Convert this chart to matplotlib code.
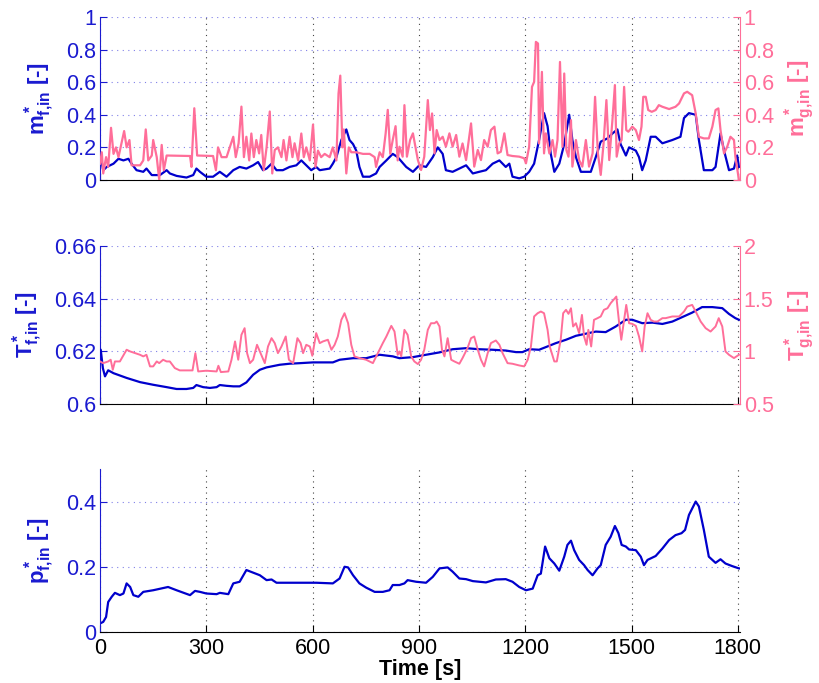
import numpy as np
import matplotlib
matplotlib.use('Agg')
import matplotlib.pyplot as plt
from matplotlib.ticker import FormatStrFormatter

plt.rcParams['font.family'] = ['Liberation Sans', 'DejaVu Sans']
plt.rcParams['mathtext.fontset'] = 'custom'
plt.rcParams['mathtext.rm'] = 'Liberation Sans:bold'
plt.rcParams['mathtext.bf'] = 'Liberation Sans:bold'
plt.rcParams['mathtext.it'] = 'Liberation Sans:bold'

BLUE = '#0000CC'
BLUE_TXT = '#1A1AD0'
PINK = '#FF6E99'
GRID_BLUE = '#8080E8'
TICK_FS = 15.5
LABEL_FS = 16

# (time [s], value) pairs

# top panel: m*_f,in (left axis)
m_f_pts = [(0, 0.12), (3, 0.12), (9, 0.06), (19, 0.08), (38, 0.10), (52, 0.13), (66, 0.12),
           (80, 0.13), (89, 0.10), (103, 0.06), (122, 0.05), (131, 0.07), (146, 0.03), (169, 0.03),
           (188, 0.06), (197, 0.04), (216, 0.025), (244, 0.015), (263, 0.03), (272, 0.07),
           (282, 0.05), (300, 0.02), (319, 0.02), (338, 0.05), (357, 0.02), (376, 0.06), (394, 0.08),
           (413, 0.07), (432, 0.09), (446, 0.11), (460, 0.06), (470, 0.07), (484, 0.10), (498, 0.06),
           (516, 0.06), (535, 0.08), (554, 0.09), (568, 0.12), (582, 0.09), (596, 0.06), (610, 0.08),
           (620, 0.06), (648, 0.07), (657, 0.10), (667, 0.14), (681, 0.245), (695, 0.31),
           (704, 0.245), (714, 0.22), (723, 0.18), (732, 0.08), (742, 0.02), (761, 0.02),
           (779, 0.04), (789, 0.08), (808, 0.12), (826, 0.16), (840, 0.14), (864, 0.08), (883, 0.05),
           (901, 0.09), (920, 0.08), (939, 0.14), (953, 0.20), (967, 0.16), (976, 0.06), (995, 0.05),
           (1014, 0.07), (1033, 0.09), (1052, 0.04), (1070, 0.05), (1089, 0.06), (1108, 0.10),
           (1127, 0.12), (1145, 0.08), (1155, 0.10), (1164, 0.02), (1183, 0.01), (1197, 0.02),
           (1211, 0.05), (1225, 0.10), (1239, 0.245), (1253, 0.41), (1263, 0.33), (1272, 0.16),
           (1282, 0.05), (1296, 0.10), (1310, 0.22), (1324, 0.40), (1333, 0.245), (1343, 0.14),
           (1357, 0.05), (1385, 0.05), (1399, 0.14), (1413, 0.235), (1432, 0.255), (1446, 0.285),
           (1460, 0.31), (1469, 0.22), (1484, 0.15), (1493, 0.20), (1512, 0.18), (1521, 0.14),
           (1530, 0.06), (1540, 0.12), (1554, 0.265), (1568, 0.265), (1587, 0.225), (1615, 0.245),
           (1638, 0.265), (1648, 0.38), (1662, 0.41), (1681, 0.40), (1690, 0.245), (1704, 0.06),
           (1728, 0.06), (1737, 0.08), (1751, 0.285), (1761, 0.18), (1775, 0.06), (1789, 0.07),
           (1798, 0.15), (1803, 0.08)]

# top panel: m*_g,in (right axis)
m_g_pts = [(0, 0.10), (5, 0.17), (9, 0.04), (17, 0.14), (23, 0.08), (31, 0.32), (38, 0.16),
           (45, 0.20), (52, 0.14), (58, 0.20), (68, 0.30), (75, 0.20), (83, 0.245), (89, 0.09),
           (113, 0.09), (122, 0.12), (129, 0.31), (136, 0.12), (146, 0.15), (150, 0.245),
           (160, 0.14), (167, 0.0), (174, 0.215), (180, 0.06), (188, 0.15), (254, 0.147),
           (258, 0.08), (266, 0.44), (274, 0.15), (319, 0.147), (327, 0.06), (333, 0.20),
           (343, 0.14), (357, 0.14), (366, 0.20), (376, 0.265), (383, 0.14), (391, 0.225),
           (399, 0.45), (406, 0.14), (413, 0.265), (421, 0.12), (427, 0.285), (434, 0.14),
           (441, 0.245), (449, 0.163), (455, 0.276), (462, 0.06), (470, 0.20), (479, 0.42),
           (486, 0.04), (493, 0.184), (502, 0.20), (512, 0.14), (518, 0.245), (526, 0.12),
           (535, 0.265), (543, 0.14), (549, 0.225), (559, 0.12), (568, 0.285), (575, 0.14),
           (582, 0.20), (592, 0.12), (601, 0.34), (608, 0.08), (615, 0.18), (624, 0.14),
           (634, 0.16), (648, 0.14), (657, 0.20), (667, 0.12), (673, 0.53), (678, 0.64),
           (684, 0.20), (688, 0.31), (695, 0.04), (702, 0.20), (709, 0.17), (723, 0.17),
           (742, 0.16), (761, 0.16), (775, 0.14), (779, 0.08), (789, 0.17), (798, 0.14),
           (806, 0.285), (812, 0.43), (819, 0.16), (826, 0.245), (834, 0.33), (840, 0.12),
           (845, 0.204), (854, 0.143), (859, 0.459), (866, 0.143), (875, 0.245), (883, 0.286),
           (890, 0.204), (897, 0.122), (906, 0.061), (915, 0.143), (925, 0.49), (931, 0.306),
           (937, 0.408), (944, 0.163), (950, 0.306), (958, 0.245), (967, 0.265), (976, 0.204),
           (986, 0.286), (995, 0.204), (1005, 0.276), (1014, 0.143), (1023, 0.224), (1033, 0.122),
           (1047, 0.347), (1056, 0.082), (1066, 0.184), (1075, 0.122), (1084, 0.245),
           (1094, 0.204), (1103, 0.306), (1113, 0.327), (1122, 0.163), (1131, 0.173),
           (1141, 0.286), (1150, 0.153), (1164, 0.147), (1183, 0.143), (1197, 0.133),
           (1202, 0.102), (1211, 0.204), (1219, 0.571), (1225, 0.602), (1230, 0.847),
           (1236, 0.837), (1239, 0.224), (1247, 0.663), (1253, 0.163), (1258, 0.286),
           (1268, 0.163), (1277, 0.245), (1284, 0.143), (1291, 0.245), (1298, 0.724),
           (1305, 0.204), (1310, 0.653), (1316, 0.184), (1322, 0.143), (1329, 0.367),
           (1333, 0.082), (1343, 0.245), (1352, 0.122), (1361, 0.082), (1371, 0.245),
           (1380, 0.082), (1390, 0.163), (1397, 0.51), (1405, 0.163), (1413, 0.031),
           (1421, 0.224), (1429, 0.49), (1437, 0.122), (1446, 0.367), (1453, 0.582),
           (1458, 0.143), (1465, 0.224), (1472, 0.245), (1479, 0.571), (1485, 0.306),
           (1491, 0.296), (1502, 0.327), (1512, 0.306), (1521, 0.245), (1528, 0.327),
           (1533, 0.51), (1540, 0.51), (1547, 0.429), (1557, 0.418), (1568, 0.429),
           (1577, 0.459), (1587, 0.449), (1606, 0.435), (1624, 0.449), (1634, 0.469),
           (1648, 0.531), (1657, 0.541), (1671, 0.52), (1681, 0.408), (1690, 0.265),
           (1704, 0.255), (1718, 0.255), (1728, 0.327), (1737, 0.429), (1745, 0.439),
           (1751, 0.306), (1761, 0.163), (1770, 0.204), (1779, 0.265), (1789, 0.245),
           (1793, 0.143), (1803, 0.0)]

# middle panel: T*_f,in (left axis)
T_f_pts = [(0, 0.6206), (2, 0.6206), (8, 0.6136), (14, 0.6105), (23, 0.6128), (38, 0.6117),
           (75, 0.6099), (113, 0.6083), (150, 0.6073), (188, 0.6064), (216, 0.6057), (244, 0.6057),
           (263, 0.6061), (272, 0.6072), (291, 0.6064), (310, 0.6061), (329, 0.6064), (338, 0.6072),
           (357, 0.6069), (376, 0.6067), (394, 0.6067), (413, 0.6082), (432, 0.6111), (451, 0.6130),
           (470, 0.6139), (507, 0.6149), (535, 0.6153), (563, 0.6155), (601, 0.6158), (639, 0.6158),
           (657, 0.6158), (676, 0.6168), (714, 0.6174), (751, 0.6174), (789, 0.6187), (826, 0.6181),
           (845, 0.6174), (883, 0.6178), (920, 0.6187), (958, 0.6196), (995, 0.6208), (1033, 0.6212),
           (1070, 0.6208), (1108, 0.6206), (1145, 0.6203), (1174, 0.6197), (1192, 0.6197),
           (1211, 0.6208), (1239, 0.6206), (1258, 0.6216), (1286, 0.6231), (1315, 0.6244),
           (1343, 0.6259), (1371, 0.6267), (1399, 0.6275), (1427, 0.6273), (1455, 0.6294),
           (1484, 0.6320), (1502, 0.6320), (1530, 0.6307), (1559, 0.6309), (1587, 0.6304),
           (1615, 0.6313), (1643, 0.6330), (1671, 0.6347), (1699, 0.6368), (1728, 0.6368),
           (1756, 0.6364), (1775, 0.6342), (1793, 0.6326), (1803, 0.6320)]

# middle panel: T*_g,in (right axis)
T_g_pts = [(0, 0.904), (9, 0.888), (23, 0.904), (30, 0.920), (36, 0.825), (42, 0.904), (56, 0.904),
           (75, 1.015), (85, 0.999), (94, 0.989), (113, 0.967), (122, 0.952), (131, 0.967),
           (141, 0.857), (150, 0.857), (160, 0.904), (167, 0.888), (178, 0.920), (188, 0.904),
           (197, 0.904), (211, 0.841), (225, 0.819), (244, 0.819), (261, 0.819), (269, 0.983),
           (277, 0.809), (300, 0.816), (329, 0.809), (334, 0.863), (341, 0.803), (362, 0.809),
           (371, 0.920), (381, 1.094), (390, 0.920), (399, 1.157), (408, 1.220), (415, 0.983),
           (423, 0.888), (432, 0.920), (443, 1.062), (453, 0.983), (465, 0.888), (474, 1.046),
           (484, 1.125), (493, 1.078), (502, 0.983), (512, 1.046), (524, 1.141), (533, 0.920),
           (545, 0.888), (557, 1.125), (566, 1.078), (573, 0.983), (582, 1.062), (592, 1.046),
           (599, 0.958), (610, 1.173), (620, 1.078), (629, 1.094), (643, 1.110), (653, 1.015),
           (662, 1.062), (671, 1.141), (681, 1.299), (690, 1.362), (700, 1.267), (709, 1.062),
           (718, 0.952), (732, 0.936), (751, 0.920), (770, 0.888), (784, 0.983), (798, 1.078),
           (808, 1.141), (822, 1.242), (831, 1.188), (840, 0.967), (845, 0.999), (850, 0.952),
           (859, 1.204), (868, 1.157), (878, 0.952), (887, 0.904), (897, 0.879), (906, 0.920),
           (915, 1.015), (925, 1.204), (934, 1.267), (944, 1.267), (950, 1.283), (958, 1.236),
           (965, 1.015), (972, 0.952), (981, 1.125), (991, 0.920), (1000, 0.904), (1014, 0.882),
           (1023, 0.936), (1037, 1.031), (1047, 1.125), (1056, 1.141), (1066, 1.015),
           (1075, 0.920), (1084, 0.857), (1094, 0.983), (1103, 1.078), (1117, 1.103),
           (1127, 1.062), (1136, 0.983), (1150, 0.888), (1164, 0.882), (1183, 0.866),
           (1197, 0.857), (1207, 0.920), (1216, 1.046), (1225, 1.331), (1235, 1.362),
           (1244, 1.378), (1253, 1.362), (1263, 1.204), (1269, 1.046), (1282, 0.904),
           (1289, 0.904), (1300, 1.110), (1307, 1.362), (1315, 1.394), (1322, 1.356),
           (1329, 1.409), (1335, 1.236), (1343, 1.267), (1352, 1.173), (1360, 1.346),
           (1366, 1.141), (1373, 1.062), (1378, 1.204), (1386, 1.046), (1394, 1.299),
           (1404, 1.315), (1413, 1.331), (1422, 1.394), (1432, 1.409), (1441, 1.457),
           (1449, 1.488), (1457, 1.520), (1465, 1.267), (1471, 1.110), (1479, 1.299),
           (1485, 1.441), (1493, 1.267), (1502, 1.261), (1512, 1.242), (1521, 1.141),
           (1530, 0.999), (1537, 1.236), (1545, 1.362), (1554, 1.299), (1563, 1.283),
           (1573, 1.283), (1587, 1.315), (1596, 1.315), (1615, 1.331), (1634, 1.331),
           (1648, 1.378), (1657, 1.425), (1671, 1.441), (1681, 1.378), (1695, 1.283),
           (1709, 1.220), (1723, 1.188), (1737, 1.236), (1746, 1.315), (1756, 1.236),
           (1765, 0.999), (1775, 0.967), (1789, 0.936), (1803, 0.967)]

# bottom panel: p*_f,in
p_f_pts = [(0, 0.026), (9, 0.031), (17, 0.046), (23, 0.092), (33, 0.108), (42, 0.120), (56, 0.113),
           (66, 0.118), (75, 0.149), (85, 0.138), (94, 0.113), (108, 0.108), (122, 0.123),
           (150, 0.128), (192, 0.138), (216, 0.128), (254, 0.113), (268, 0.126), (282, 0.123),
           (300, 0.118), (329, 0.116), (338, 0.120), (362, 0.116), (376, 0.149), (394, 0.154),
           (413, 0.190), (432, 0.182), (451, 0.174), (470, 0.159), (484, 0.161), (498, 0.151),
           (526, 0.151), (563, 0.151), (610, 0.151), (657, 0.149), (676, 0.164), (690, 0.200),
           (700, 0.198), (714, 0.174), (732, 0.149), (751, 0.136), (775, 0.123), (798, 0.123),
           (817, 0.128), (826, 0.144), (845, 0.144), (859, 0.149), (868, 0.159), (892, 0.154),
           (920, 0.151), (939, 0.169), (958, 0.195), (981, 0.198), (995, 0.185), (1014, 0.164),
           (1033, 0.162), (1052, 0.156), (1089, 0.152), (1117, 0.161), (1145, 0.162),
           (1164, 0.154), (1183, 0.138), (1202, 0.128), (1221, 0.133), (1235, 0.174),
           (1244, 0.179), (1256, 0.262), (1268, 0.226), (1282, 0.210), (1296, 0.188),
           (1310, 0.231), (1319, 0.267), (1329, 0.280), (1338, 0.251), (1352, 0.221),
           (1366, 0.205), (1376, 0.190), (1390, 0.174), (1404, 0.195), (1413, 0.205),
           (1427, 0.267), (1441, 0.292), (1453, 0.325), (1463, 0.303), (1472, 0.267),
           (1484, 0.262), (1493, 0.253), (1512, 0.251), (1526, 0.231), (1535, 0.205),
           (1545, 0.221), (1568, 0.233), (1587, 0.256), (1606, 0.282), (1624, 0.297),
           (1641, 0.303), (1651, 0.313), (1662, 0.359), (1681, 0.400), (1690, 0.385),
           (1704, 0.313), (1718, 0.231), (1737, 0.212), (1751, 0.223), (1765, 0.210),
           (1784, 0.202), (1803, 0.195)]

xticks = [0, 300, 600, 900, 1200, 1500, 1800]


def split(pts):
    a = np.array(pts, dtype=float)
    return a[:, 0], a[:, 1]


fig = plt.figure(figsize=(8.2, 6.83), dpi=100)
positions = [[0.122, 0.7365, 0.780, 0.2387],
             [0.122, 0.4085, 0.780, 0.2313],
             [0.122, 0.0747, 0.780, 0.2387]]
axes = [fig.add_axes(p) for p in positions]


def style_left(ax, ylim, yticks, label):
    ax.set_xlim(0, 1805)
    ax.set_ylim(*ylim)
    ax.set_xticks(xticks)
    ax.set_yticks(yticks)
    ax.yaxis.set_major_formatter(FormatStrFormatter('%g'))
    ax.spines['top'].set_visible(False)
    ax.spines['right'].set_visible(False)
    ax.spines['left'].set_color(BLUE_TXT)
    ax.spines['bottom'].set_color('black')
    ax.tick_params(axis='y', direction='in', colors=BLUE_TXT, labelsize=TICK_FS, length=5, pad=3)
    ax.tick_params(axis='x', direction='in', colors='black', labelsize=TICK_FS, length=5, pad=4)
    ax.xaxis.grid(True, linestyle=(0, (1, 4)), color='#444444', linewidth=0.8)
    ax.yaxis.grid(True, linestyle=(0, (1, 4)), color=GRID_BLUE, linewidth=0.8)
    ax.set_ylabel(label, color=BLUE_TXT, fontsize=LABEL_FS, fontweight='bold', labelpad=6)


def style_right(ax, ylim, yticks, label):
    ax.set_ylim(*ylim)
    ax.set_yticks(yticks)
    ax.yaxis.set_major_formatter(FormatStrFormatter('%g'))
    for s in ['top', 'left', 'bottom']:
        ax.spines[s].set_visible(False)
    ax.spines['right'].set_color(PINK)
    ax.tick_params(axis='y', direction='in', colors=PINK, labelsize=TICK_FS, length=5, pad=3)
    ax.set_ylabel(label, color=PINK, fontsize=LABEL_FS, fontweight='bold', labelpad=6)


# top: mass flows
ax = axes[0]
ax.plot(*split(m_f_pts), color=BLUE, lw=1.6)
style_left(ax, (0, 1), [0, 0.2, 0.4, 0.6, 0.8, 1], r'$\mathbf{m^*_{f{,}in}}$ [-]')
ax.set_xticklabels([])
axr = ax.twinx()
axr.plot(*split(m_g_pts), color=PINK, lw=1.6)
style_right(axr, (0, 1), [0, 0.2, 0.4, 0.6, 0.8, 1], r'$\mathbf{m^*_{g{,}in}}$ [-]')

# middle: temperatures
ax = axes[1]
ax.plot(*split(T_f_pts), color=BLUE, lw=1.6, zorder=3)
style_left(ax, (0.6, 0.66), [0.6, 0.62, 0.64, 0.66], r'$\mathbf{T^*_{f{,}in}}$ [-]')
ax.set_xticklabels([])
axr = ax.twinx()
axr.plot(*split(T_g_pts), color=PINK, lw=1.4)
style_right(axr, (0.5, 2), [0.5, 1, 1.5, 2], r'$\mathbf{T^*_{g{,}in}}$ [-]')

# bottom: pressure
ax = axes[2]
ax.plot(*split(p_f_pts), color=BLUE, lw=1.6)
style_left(ax, (0, 0.5), [0, 0.2, 0.4], r'$\mathbf{p^*_{f{,}in}}$ [-]')
ax.set_xlabel('Time [s]', fontsize=15.5, fontweight='bold', labelpad=0)

fig.savefig('out.png', dpi=100)
